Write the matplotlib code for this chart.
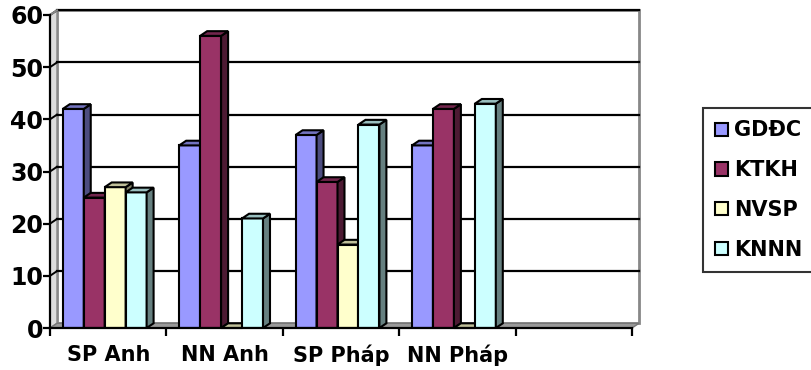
import numpy as np
import matplotlib.pyplot as plt
from matplotlib.patches import Polygon, Patch

plt.rcParams['font.family'] = ['DejaVu Sans']
plt.rcParams['font.weight'] = 'bold'

categories = ['SP Anh', 'NN Anh', 'SP Pháp', 'NN Pháp']
series = ['GDĐC', 'KTKH', 'NVSP', 'KNNN']
gddc = [42, 35, 37, 35]
ktkh = [25, 56, 28, 42]
nvsp = [27, 0, 16, 0]
knnn = [26, 21, 39, 43]
values = [gddc, ktkh, nvsp, knnn]
yticks = [0, 10, 20, 30, 40, 50, 60]

colors = ['#9999FF', '#993366', '#FFFFCC', '#CCFFFF']
n_slots = 5          # Excel left one empty category slot
bar_w = 0.18
dx, dy = 0.06, 0.9   # fake 3D depth, data units


def shade(c, f):
    r, g, b = [int(c[i:i + 2], 16) / 255 for i in (1, 3, 5)]
    return (r * f, g * f, b * f)


fig = plt.figure(figsize=(8.12, 3.7), dpi=100)
ax = fig.add_axes([50 / 812, 42 / 370, 582 / 812, 313 / 370])
ax.set_xlim(0, n_slots)
ax.set_ylim(0, 60)

# back wall + gridlines
ax.add_patch(Polygon([(dx, dy), (n_slots + dx, dy), (n_slots + dx, 60 + dy), (dx, 60 + dy)],
                     closed=True, fc='white', ec='#888888', lw=2, zorder=0, clip_on=False))
for t in yticks[1:]:
    ax.plot([dx, n_slots + dx], [t + dy, t + dy], color='black', lw=1.6, zorder=1, clip_on=False)
    ax.plot([0, dx], [t, t + dy], color='black', lw=1.4, zorder=1, clip_on=False)
# left wall edge
ax.plot([0, dx], [60, 60 + dy], color='#888888', lw=1.5, zorder=1, clip_on=False)
ax.add_patch(Polygon([(0, 0), (dx, dy), (dx, 60 + dy), (0, 60)],
                     closed=True, fc='#dddddd', ec='#888888', lw=1, zorder=0.5, clip_on=False))
# floor
ax.add_patch(Polygon([(0, 0), (n_slots, 0), (n_slots + dx, dy), (dx, dy)],
                     closed=True, fc='#999999', ec='#777777', lw=1, zorder=1.5, clip_on=False))

# bars
z = 2
group_w = bar_w * len(series)
for ci in range(len(categories)):
    start = ci + 0.5 - group_w / 2 - dx / 2
    for si, vals in enumerate(values):
        v = vals[ci]
        x0 = start + si * bar_w
        c = colors[si]
        ax.bar(x0, v, width=bar_w, align='edge', color=c, ec='black', lw=1.5, zorder=z)
        ax.add_patch(Polygon([(x0 + bar_w, 0), (x0 + bar_w + dx, dy), (x0 + bar_w + dx, v + dy), (x0 + bar_w, v)],
                             closed=True, fc=shade(c, 0.5), ec='black', lw=1.5, zorder=z, clip_on=False))
        ax.add_patch(Polygon([(x0, v), (x0 + dx, v + dy), (x0 + bar_w + dx, v + dy), (x0 + bar_w, v)],
                             closed=True, fc=shade(c, 0.75), ec='black', lw=1.5, zorder=z, clip_on=False))
        z += 1

for s in ['top', 'right']:
    ax.spines[s].set_visible(False)
ax.spines['left'].set_linewidth(1.6)
ax.spines['bottom'].set_linewidth(1.6)
ax.spines['left'].set_zorder(50)
ax.spines['bottom'].set_zorder(50)

ax.set_yticks(yticks)
ax.set_yticklabels([str(t) for t in yticks], fontsize=17, fontweight='bold')
ax.tick_params(axis='y', length=5, width=1.6, pad=0)

ax.set_xticks(range(n_slots + 1))
ax.set_xticklabels([])
ax.set_xticks([i + 0.5 for i in range(len(categories))], minor=True)
ax.set_xticklabels(categories, minor=True, fontsize=15, fontweight='bold')
ax.tick_params(axis='x', which='major', length=6, width=1.6, direction='out')
ax.tick_params(axis='x', which='minor', length=0, pad=12)

handles = [Patch(fc=c, ec='black', lw=1.5) for c in colors]
leg = fig.legend(handles, series, loc='upper left', bbox_to_anchor=(703 / 812, 262 / 370),
                 frameon=True, fancybox=False, edgecolor='black', fontsize=15,
                 handlelength=0.6, handleheight=0.6, handletextpad=0.3,
                 labelspacing=0.95, borderpad=0.6, borderaxespad=0)
leg.get_frame().set_linewidth(1.5)
for t in leg.get_texts():
    t.set_fontweight('bold')

fig.savefig('out.png', dpi=100)
